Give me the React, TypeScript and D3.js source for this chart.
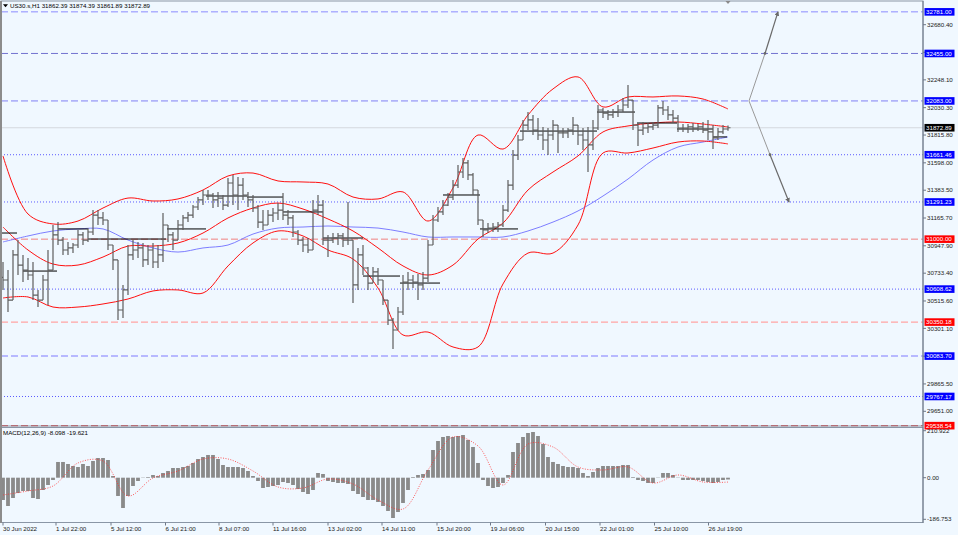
import * as d3 from "d3";

// ---- data (US30.s, H1, grouped bars) ----
const highs = [
  30821, 30758, 30915, 30993, 30876, 30852, 30821, 30602, 30719, 30915,
  31111, 31134, 31017, 30978, 30970, 31072, 31056, 31087, 31228, 31228,
  31213, 31150, 30954, 30602, 30641, 30954, 30993, 30978, 30970, 30954,
  30970, 30954, 31205, 31087, 31056, 31150, 31189, 31213, 31267, 31330,
  31385, 31385, 31362, 31370, 31346, 31479, 31502, 31487, 31479, 31370,
  31346, 31267, 31228, 31228, 31244, 31283, 31362, 31228, 31189, 31072,
  31017, 31009, 31307, 31346, 31307, 31033, 31048, 31048, 31048, 31291,
  30954, 30931, 30954, 30782, 30782, 30774, 30680, 30523, 30382, 30468,
  30719, 30743, 30719, 30727, 30743, 30993, 31189, 31252, 31307, 31362,
  31464, 31581, 31636, 31620, 31518, 31385, 31150, 31126, 31126, 31134,
  31267, 31464, 31699, 31816, 31934, 31996, 31973, 31949, 31879, 31871,
  31934, 31894, 31871, 31871, 31957, 31894, 31871, 31879, 31934, 32051,
  32028, 32012, 32020, 32051, 32106, 32208, 32090, 31910, 31918, 31910,
  31918, 32051, 32083, 32043, 32012, 31973, 31902, 31902, 31910, 31902,
  31918, 31934, 31894, 31871, 31894, 31890,
];
const lows = [
  30602, 30429, 30562, 30719, 30664, 30680, 30523, 30468, 30539, 30484,
  30758, 30954, 30876, 30876, 30891, 30931, 30954, 30978, 31033, 31111,
  31111, 30915, 30758, 30366, 30382, 30562, 30837, 30852, 30782, 30797,
  30774, 30774, 30821, 30978, 30915, 30993, 31072, 31134, 31166, 31228,
  31267, 31307, 31244, 31252, 31228, 31252, 31267, 31228, 31307, 31252,
  31213, 31087, 31072, 31111, 31134, 31150, 31150, 31111, 31017, 30954,
  30899, 30891, 30915, 31189, 30954, 30860, 30970, 30954, 30939, 30954,
  30500, 30602, 30719, 30602, 30664, 30641, 30484, 30327, 30139, 30288,
  30406, 30602, 30617, 30523, 30602, 30664, 30954, 31134, 31189, 31260,
  31307, 31401, 31479, 31464, 31346, 31111, 31017, 31048, 31056, 31056,
  31095, 31213, 31385, 31620, 31777, 31855, 31816, 31777, 31699, 31659,
  31777, 31675, 31792, 31792, 31816, 31738, 31699, 31526, 31699, 31855,
  31949, 31934, 31949, 31957, 31996, 32028, 31855, 31730, 31816, 31832,
  31855, 31871, 31973, 31934, 31910, 31840, 31840, 31832, 31840, 31847,
  31832, 31777, 31706, 31777, 31824, 31850,
];
const closes = [
  30680, 30523, 30876, 30797, 30758, 30719, 30562, 30523, 30680, 30758,
  31033, 30993, 30915, 30931, 30954, 31033, 30993, 31056, 31189, 31166,
  31150, 30954, 30837, 30445, 30602, 30876, 30915, 30931, 30837, 30915,
  30821, 30876, 31111, 31033, 30993, 31111, 31166, 31189, 31252, 31307,
  31346, 31346, 31307, 31322, 31267, 31440, 31346, 31424, 31346, 31307,
  31244, 31134, 31111, 31189, 31205, 31228, 31189, 31166, 31056, 30993,
  30954, 30915, 31228, 31267, 30993, 30993, 31009, 31025, 30993, 30993,
  30641, 30876, 30774, 30656, 30743, 30680, 30523, 30366, 30288, 30429,
  30664, 30680, 30664, 30641, 30695, 30954, 31150, 31213, 31267, 31330,
  31424, 31526, 31597, 31503, 31385, 31150, 31072, 31087, 31095, 31111,
  31228, 31424, 31659, 31777, 31894, 31934, 31855, 31816, 31777, 31816,
  31894, 31832, 31832, 31855, 31894, 31816, 31777, 31738, 31871, 32012,
  31988, 31973, 31996, 32012, 32051, 32090, 31894, 31855, 31871, 31879,
  31894, 32028, 32012, 31973, 31949, 31871, 31871, 31879, 31871, 31879,
  31855, 31840, 31793, 31840, 31863, 31872.89,
];
const firstOpen = 30700;

// indicator lines, one value every 5 bars
const bandStep = 5;
const upperBand = [
  31652, 31197, 31119, 31142, 31244, 31322, 31299, 31315, 31385, 31495,
  31518, 31456, 31448, 31432, 31330, 31315, 31370, 31142, 31401, 31816,
  31706, 31973, 32177, 32271, 32036, 32114, 32114, 32122, 32098, 32020,
];
const middleBand = [
  31095, 30915, 30805, 30797, 30860, 30946, 30946, 30970, 31048, 31166,
  31244, 31283, 31236, 31158, 31064, 30931, 30790, 30719, 30797, 31001,
  31126, 31385, 31526, 31652, 31840, 31887, 31910, 31918, 31902, 31879,
];
const lowerBand = [
  30539, 30547, 30468, 30468, 30492, 30531, 30594, 30602, 30578, 30790,
  30970, 31064, 31025, 30915, 30844, 30617, 30249, 30272, 30155, 30155,
  30649, 30891, 30891, 31111, 31675, 31675, 31714, 31761, 31769, 31746,
];
const movingAverage = [
  30978, 31025, 31064, 31080, 31080, 30993, 30931, 30899, 30931, 30954,
  31040, 31087, 31095, 31103, 31095, 31087, 31056, 31017, 31017, 31017,
  31017, 31064, 31134, 31221, 31338, 31471, 31620, 31722, 31761, 31801,
];

const macdMain = [
  -100.1, -127.0, -91.1, -68.7, -59.7, -59.7, -91.1, -95.6, -55.2, -32.8,
  -10.3, 70.5, 70.5, 61.5, 52.5, 48.0, 61.5, 52.5, 75.0, 88.4,
  88.4, 79.4, 7.6, -82.1, -136.0, -82.1, -37.3, -14.8, -1.3, 3.1,
  12.1, 7.6, 21.1, 30.1, 43.5, 43.5, 48.0, 52.5, 66.0, 83.9,
  92.9, 101.9, 101.9, 83.9, 57.0, 48.0, 48.0, 48.0, 43.5, 30.1,
  7.6, -14.8, -46.2, -41.7, -37.3, -32.8, -19.3, -23.8, -32.8, -50.7,
  -64.2, -73.2, -55.2, 21.1, 16.6, -14.8, -19.3, -23.8, -23.8, -28.3,
  -59.7, -73.2, -86.6, -100.1, -100.1, -109.1, -127.0, -149.4, -180.9, -154.0,
  -113.5, -55.2, 3.1, 12.1, 16.6, 34.6, 124.3, 164.7, 182.7, 187.1,
  182.7, 187.1, 191.6, 169.2, 137.8, 66.0, -10.3, -37.3, -46.2, -41.7,
  -23.8, 12.1, 115.3, 155.7, 182.7, 200.6, 205.1, 187.1, 151.2, 92.9,
  70.5, 61.5, 52.5, 48.0, 48.0, 43.5, 21.1, 7.6, 25.6, 43.5,
  52.5, 52.5, 52.5, 52.5, 57.0, 57.0, 3.1, -10.3, -14.8, -23.8,
  -23.8, -1.3, 21.1, 21.1, 12.1, -1.3, -10.3, -10.3, -10.3, -10.3,
  -14.8, -19.3, -23.8, -19.3, -10.3, -8.098,
];
const macdSignal = [
  -77.6, -59.7, -37.3, 66.0, 74.9, -82.1, -1.3, 30.1, 83.9, 83.9,
  30.1, -41.7, -46.2, -5.8, -28.3, -100.1, -140.5, 34.6, 182.7, 142.3,
  -32.8, 151.2, 137.8, 48.0, 34.6, 48.0, -23.8, 12.1, -19.3, -19.621,
];

// daily open segments [fromBar, toBar, price]
const dayOpens: [number, number, number][] = [
  [-0.6, 2.8, 31048], [4, 10.8, 30750], [11, 17, 31080], [17, 32.6, 31001],
  [32.8, 40.6, 31080], [40.6, 48.8, 31338], [48.8, 56, 31330], [56, 64, 31213],
  [64, 72, 31009], [72, 79.4, 30711], [79.4, 87.4, 30656], [88, 95.4, 31346],
  [95.4, 103, 31080], [103.4, 118.8, 31847], [118.8, 126.4, 31996],
  [126.8, 134.8, 31910], [134.8, 142, 31863], [142, 144.8, 31801],
];

type Level = { price: number; label: string; color: string; box: string; dash: string; width: number };
const levels: Level[] = [
  { price: 32781, label: "32781.00", color: "#8c8cff", box: "#0000ff", dash: "7,3", width: 1 },
  { price: 32455, label: "32455.00", color: "#7272d0", box: "#0000ff", dash: "7,3", width: 1 },
  { price: 32083, label: "32083.00", color: "#8080f4", box: "#0000ff", dash: "7,3", width: 1 },
  { price: 31661.46, label: "31661.46", color: "#5a5aff", box: "#0000ff", dash: "1,2", width: 1 },
  { price: 31291.23, label: "31291.23", color: "#5a5aff", box: "#0000ff", dash: "1,2", width: 1 },
  { price: 31000, label: "31000.00", color: "#f08080", box: "#ff0000", dash: "7,3", width: 1 },
  { price: 30608.62, label: "30608.62", color: "#5a5aff", box: "#0000ff", dash: "1,2", width: 1 },
  { price: 30350.18, label: "30350.18", color: "#ffa4a4", box: "#ff0000", dash: "7,3", width: 1.2 },
  { price: 30083.7, label: "30083.70", color: "#a4a4ff", box: "#0000ff", dash: "7,3", width: 1.5 },
  { price: 29767.17, label: "29767.17", color: "#5a5aff", box: "#0000ff", dash: "1,2", width: 1 },
  { price: 29538.54, label: "29538.54", color: "#e04848", box: "#ff0000", dash: "7,3", width: 1.2 },
];
const lastPrice = 31872.89;

const priceTicks = [
  32680.4, 32464.3, 32248.1, 32030.3, 31815.8, 31598.0, 31383.5, 31165.7,
  30947.9, 30733.4, 30515.6, 30301.1, 30083.3, 29865.5, 29651.0,
];
const macdTicks = [210.922, 0, -186.753];
const macdTickLabels = ["210.922", "0.00", "-186.753"];

const timeLabels = [
  "30 Jun 2022", "1 Jul 22:00", "5 Jul 12:00", "6 Jul 21:00", "8 Jul 07:00",
  "11 Jul 16:00", "13 Jul 02:00", "14 Jul 11:00", "15 Jul 20:00", "19 Jul 06:00",
  "20 Jul 15:00", "22 Jul 01:00", "25 Jul 10:00", "26 Jul 19:00",
];
const timeLabelBars = [0, 10.6, 21.6, 32.5, 43.2, 54, 65, 75.8, 86.8, 97.5, 108.5, 119.4, 130.3, 141.1];

// projected scenario arrows (bar, price)
const upPath: [number, number][] = [[149.2, 32083], [152.4, 32455], [155, 32781]];
const downPath: [number, number][] = [[149.2, 32083], [153.4, 31661.46], [157.2, 31291.23]];

const header = "US30.s,H1  31862.39 31874.39 31861.89 31872.89";
const macdTitle = "MACD(12,26,9) -8.098 -19.621";

const FONT = "'Liberation Sans', Arial, sans-serif";
const BG = "#f0f8ff";
const AXIS_X = 923;

export default function App() {
  const x = d3.scaleLinear().domain([0, 145]).range([3, 728]);
  const y = d3.scaleLinear().domain([29535.9, 32873.9]).range([426, 0]);
  const ym = d3.scaleLinear().domain([-186.753, 210.922]).range([519.3, 430.7]);

  const bandLine = d3
    .line<number>()
    .x((_, k) => x(k * bandStep))
    .y((v) => y(v))
    .curve(d3.curveCatmullRom);
  const signalLine = d3
    .line<number>()
    .x((_, k) => x(k * bandStep))
    .y((v) => ym(v))
    .curve(d3.curveCatmullRom);
  const pathLine = d3
    .line<[number, number]>()
    .x((d) => x(d[0]))
    .y((d) => y(d[1]));

  // OHLC bars
  let bars = "";
  closes.forEach((c, i) => {
    const o = i === 0 ? firstOpen : closes[i - 1];
    const hi = Math.max(highs[i], o, c);
    const lo = Math.min(lows[i], o, c);
    const xi = x(i);
    bars += `M${xi},${y(hi)}V${y(lo)}M${xi - 2.5},${y(o)}H${xi}M${xi},${y(c)}H${xi + 2.5}`;
  });

  const macdBw = 3.8;

  return (
    <div>
      <style>{"body{margin:0;overflow:hidden}"}</style>
      <svg width={958} height={535} style={{ display: "block", background: BG }} fontFamily={FONT}>
        <rect x={0} y={0} width={958} height={535} fill={BG} />

        {/* horizontal levels */}
        {levels.map((l) => (
          <line
            key={l.label}
            x1={1}
            x2={AXIS_X}
            y1={y(l.price)}
            y2={y(l.price)}
            stroke={l.color}
            strokeWidth={l.width}
            strokeDasharray={l.dash}
          />
        ))}
        <line x1={1} x2={AXIS_X} y1={y(lastPrice)} y2={y(lastPrice)} stroke="#d4d8de" strokeWidth={1} />

        {/* moving average */}
        <path d={bandLine(movingAverage) ?? ""} fill="none" stroke="#6f6fff" strokeWidth={0.9} />

        {/* bollinger bands */}
        {[upperBand, middleBand, lowerBand].map((b, k) => (
          <path key={k} d={bandLine(b) ?? ""} fill="none" stroke="#ff1010" strokeWidth={1} />
        ))}

        {/* day open segments */}
        {dayOpens.map(([a, b, p], k) => (
          <line key={k} x1={x(a)} x2={x(b)} y1={y(p)} y2={y(p)} stroke="#000" strokeWidth={1} />
        ))}

        {/* price bars */}
        <path d={bars} fill="none" stroke="#5e5e5e" strokeWidth={1.2} />

        {/* scenario arrows */}
        <defs>
          <marker id="ah" viewBox="0 0 6 6" refX={5} refY={3} markerWidth={4} markerHeight={4} orient="auto">
            <path d="M0,0L6,3L0,6Z" fill="#6a6a6a" />
          </marker>
        </defs>
        {[upPath, downPath].map((pth, k) => (
          <g key={k}>
            <path d={pathLine(pth.slice(0, 2)) ?? ""} stroke="#999" strokeWidth={1} fill="none" />
            <path d={pathLine(pth.slice(1)) ?? ""} stroke="#6a6a6a" strokeWidth={1.2} fill="none" markerEnd="url(#ah)" />
            <circle cx={x(pth[1][0])} cy={y(pth[1][1])} r={1.4} fill="#6a6a6a" />
          </g>
        ))}

        {/* MACD */}
        {macdMain.map((v, i) => (
          <rect
            key={i}
            x={x(i) - macdBw / 2}
            width={macdBw}
            y={Math.min(ym(v), ym(0))}
            height={Math.abs(ym(v) - ym(0))}
            fill="#8a8a8a"
          />
        ))}
        <path d={signalLine(macdSignal) ?? ""} fill="none" stroke="#ff3030" strokeWidth={0.8} strokeDasharray="1,1.5" />
        <text x={3} y={435} fontSize={6.2} fill="#000">
          {macdTitle}
        </text>

        {/* frames */}
        <rect x={1} y={1} width={AXIS_X - 1} height={425} fill="none" stroke="#8a96a6" strokeWidth={1} />
        <rect x={1} y={427.5} width={AXIS_X - 1} height={95} fill="none" stroke="#8a96a6" strokeWidth={1} />
        <line x1={1} x2={1} y1={1} y2={523} stroke="#8c8c8c" strokeWidth={2} />
        <line x1={AXIS_X} x2={AXIS_X} y1={1} y2={523} stroke="#6e7888" strokeWidth={1} />

        {/* chart shift marker */}
        <path d={`M${x(145) - 2.5},1H${x(145) + 2.5}L${x(145)},4Z`} fill="#8a8a8a" />

        {/* header */}
        <path d="M3,4.2H8L5.5,7.2Z" fill="#000" />
        <text x={10} y={8} fontSize={6.2} fill="#000">
          {header}
        </text>

        {/* price axis */}
        {priceTicks.map((t) => (
          <g key={t}>
            <line x1={AXIS_X} x2={AXIS_X + 3} y1={y(t)} y2={y(t)} stroke="#6e7888" />
            <text x={927} y={y(t)} dy="0.35em" fontSize={6.2} fill="#222">
              {t.toFixed(2)}
            </text>
          </g>
        ))}
        {levels.map((l) => (
          <g key={l.label}>
            <rect x={924.5} y={y(l.price) - 3.8} width={30} height={7.6} fill={l.box} />
            <text x={926} y={y(l.price)} dy="0.35em" fontSize={6.2} fill="#fff">
              {l.label}
            </text>
          </g>
        ))}
        <rect x={924.5} y={y(lastPrice) - 3.8} width={30} height={7.6} fill="#000" />
        <text x={926} y={y(lastPrice)} dy="0.35em" fontSize={6.2} fill="#fff">
          {lastPrice.toFixed(2)}
        </text>

        {/* macd axis */}
        {macdTicks.map((t, k) => (
          <g key={t}>
            <line x1={AXIS_X} x2={AXIS_X + 3} y1={ym(t)} y2={ym(t)} stroke="#6e7888" />
            <text x={927} y={ym(t)} dy="0.35em" fontSize={6.2} fill="#222">
              {macdTickLabels[k]}
            </text>
          </g>
        ))}

        {/* time axis */}
        {timeLabels.map((s, k) => (
          <g key={s}>
            <line x1={x(timeLabelBars[k])} x2={x(timeLabelBars[k])} y1={522.5} y2={525.5} stroke="#6e7888" />
            <text x={x(timeLabelBars[k])} y={530.5} fontSize={6.2} fill="#222">
              {s}
            </text>
          </g>
        ))}
      </svg>
    </div>
  );
}
